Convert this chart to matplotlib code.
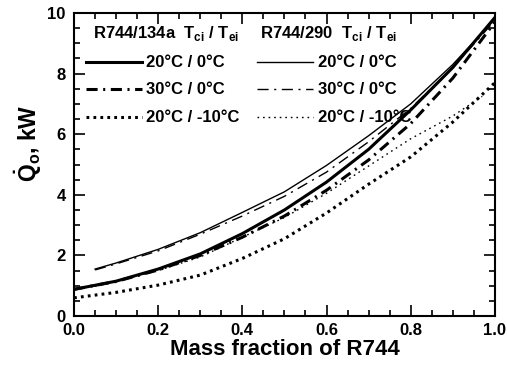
import matplotlib
matplotlib.use("Agg")
import matplotlib.pyplot as plt
from matplotlib.ticker import MultipleLocator

plt.rcParams['font.family'] = ['Liberation Sans', 'DejaVu Sans']
plt.rcParams['mathtext.fontset'] = 'custom'
plt.rcParams['mathtext.rm'] = 'Liberation Sans:bold'
plt.rcParams['mathtext.bf'] = 'Liberation Sans:bold'
plt.rcParams['lines.scale_dashes'] = False

# R744/134a (thick lines), x from 0.0
x_134a = [0.0, 0.1, 0.2, 0.3, 0.4, 0.5, 0.6, 0.7, 0.8, 0.9, 1.0]
q_134a_20_0 = [0.88, 1.15, 1.55, 2.05, 2.72, 3.5, 4.42, 5.5, 6.8, 8.2, 9.85]
q_134a_30_0 = [0.88, 1.14, 1.52, 2.0, 2.6, 3.3, 4.15, 5.15, 6.35, 7.85, 9.7]
q_134a_20_m10 = [0.6, 0.78, 1.02, 1.35, 1.9, 2.55, 3.4, 4.35, 5.25, 6.4, 7.7]

# R744/290 (thin lines), x from 0.05
x_290 = [0.05, 0.1, 0.2, 0.3, 0.4, 0.5, 0.6, 0.7, 0.8, 0.9, 1.0]
q_290_20_0 = [1.55, 1.75, 2.2, 2.75, 3.42, 4.1, 4.97, 5.95, 7.0, 8.3, 9.8]
q_290_30_0 = [1.52, 1.72, 2.15, 2.7, 3.3, 3.95, 4.75, 5.75, 6.85, 8.2, 9.75]
x_290_m10 = [0.05, 0.1, 0.2, 0.3, 0.4, 0.5, 0.6, 0.7, 0.8, 0.9, 0.97]
q_290_20_m10 = [0.98, 1.15, 1.5, 1.95, 2.6, 3.25, 4.05, 4.95, 5.85, 6.6, 7.25]

labels = ["20°C / 0°C", "30°C / 0°C", "20°C / -10°C"]
x_ticks = [0.0, 0.2, 0.4, 0.6, 0.8, 1.0]
y_ticks = [0, 2, 4, 6, 8, 10]

DASHDOT = (8, 4, 1.5, 4)
DOT_THICK = (2, 3)
DOT_THIN = (1.2, 2.8)

fig = plt.figure(figsize=(5.07, 3.72), dpi=100)
ax = fig.add_axes([0.146, 0.1505, 0.83, 0.8145])

thick = 2.2
thin = 1.0
ax.plot(x_134a, q_134a_20_0, color='k', lw=thick)
ax.plot(x_134a, q_134a_30_0, color='k', lw=thick, dashes=DASHDOT)
ax.plot(x_134a, q_134a_20_m10, color='k', lw=thick, dashes=DOT_THICK)
ax.plot(x_290, q_290_20_0, color='k', lw=thin)
ax.plot(x_290, q_290_30_0, color='k', lw=thin, dashes=DASHDOT)
ax.plot(x_290_m10, q_290_20_m10, color='k', lw=thin, dashes=DOT_THIN)

# hand-made legend in axes coordinates (pixel positions)
tr = ax.transAxes
def ax_x(px):
    return (px - 74) / 421.0
def ax_y(py):
    return (316 - py) / 303.0

fs = 12
ax.text(ax_x(93), ax_y(33), r"R744/134a  T$_{\mathrm{ci}}$ / T$_{\mathrm{ei}}$",
        transform=tr, fontsize=fs, va='center', ha='left', fontweight='bold')
ax.text(ax_x(260), ax_y(33), r"R744/290  T$_{\mathrm{ci}}$ / T$_{\mathrm{ei}}$",
        transform=tr, fontsize=fs, va='center', ha='left', fontweight='bold')
rows = [62, 89, 117]
for i, (lab, py) in enumerate(zip(labels, rows)):
    if i == 0:
        kw_a, kw_b = {}, {}
    elif i == 1:
        kw_a, kw_b = dict(dashes=DASHDOT), dict(dashes=DASHDOT)
    else:
        kw_a, kw_b = dict(dashes=DOT_THICK), dict(dashes=DOT_THIN)
    ax.plot([ax_x(86), ax_x(142)], [ax_y(py), ax_y(py)], transform=tr,
            color='k', lw=thick, **kw_a)
    ax.plot([ax_x(257), ax_x(313)], [ax_y(py), ax_y(py)], transform=tr,
            color='k', lw=thin, **kw_b)
    ax.text(ax_x(146), ax_y(py), lab, transform=tr, fontsize=fs,
            va='center', ha='left', fontweight='bold')
    ax.text(ax_x(318), ax_y(py), lab, transform=tr, fontsize=fs,
            va='center', ha='left', fontweight='bold')

ax.set_xlim(0, 1)
ax.set_ylim(0, 10)
ax.set_xticks(x_ticks)
ax.set_xticklabels([f"{v:.1f}" for v in x_ticks])
ax.set_yticks(y_ticks)
ax.set_yticklabels([str(v) for v in y_ticks])
ax.xaxis.set_minor_locator(MultipleLocator(0.05))
ax.yaxis.set_minor_locator(MultipleLocator(0.5))
ax.tick_params(which='both', direction='in', top=True, right=True,
               labelsize=12, width=1.2)
ax.tick_params(which='major', length=8)
ax.tick_params(which='minor', length=4)
ax.tick_params(axis='x', pad=5)
ax.tick_params(axis='y', pad=6)
for lab in ax.get_xticklabels() + ax.get_yticklabels():
    lab.set_fontweight('bold')
for s in ax.spines.values():
    s.set_linewidth(1.5)

ax.set_xlabel("Mass fraction of R744", fontsize=16, fontweight='bold', labelpad=1)
ax.set_ylabel(r"$\dot{\mathbf{Q}}_{\mathbf{o}}$, kW", fontsize=16.5, fontweight='bold')
ax.yaxis.set_label_coords(-0.072, 0.57)

fig.savefig("out.png", dpi=100)
